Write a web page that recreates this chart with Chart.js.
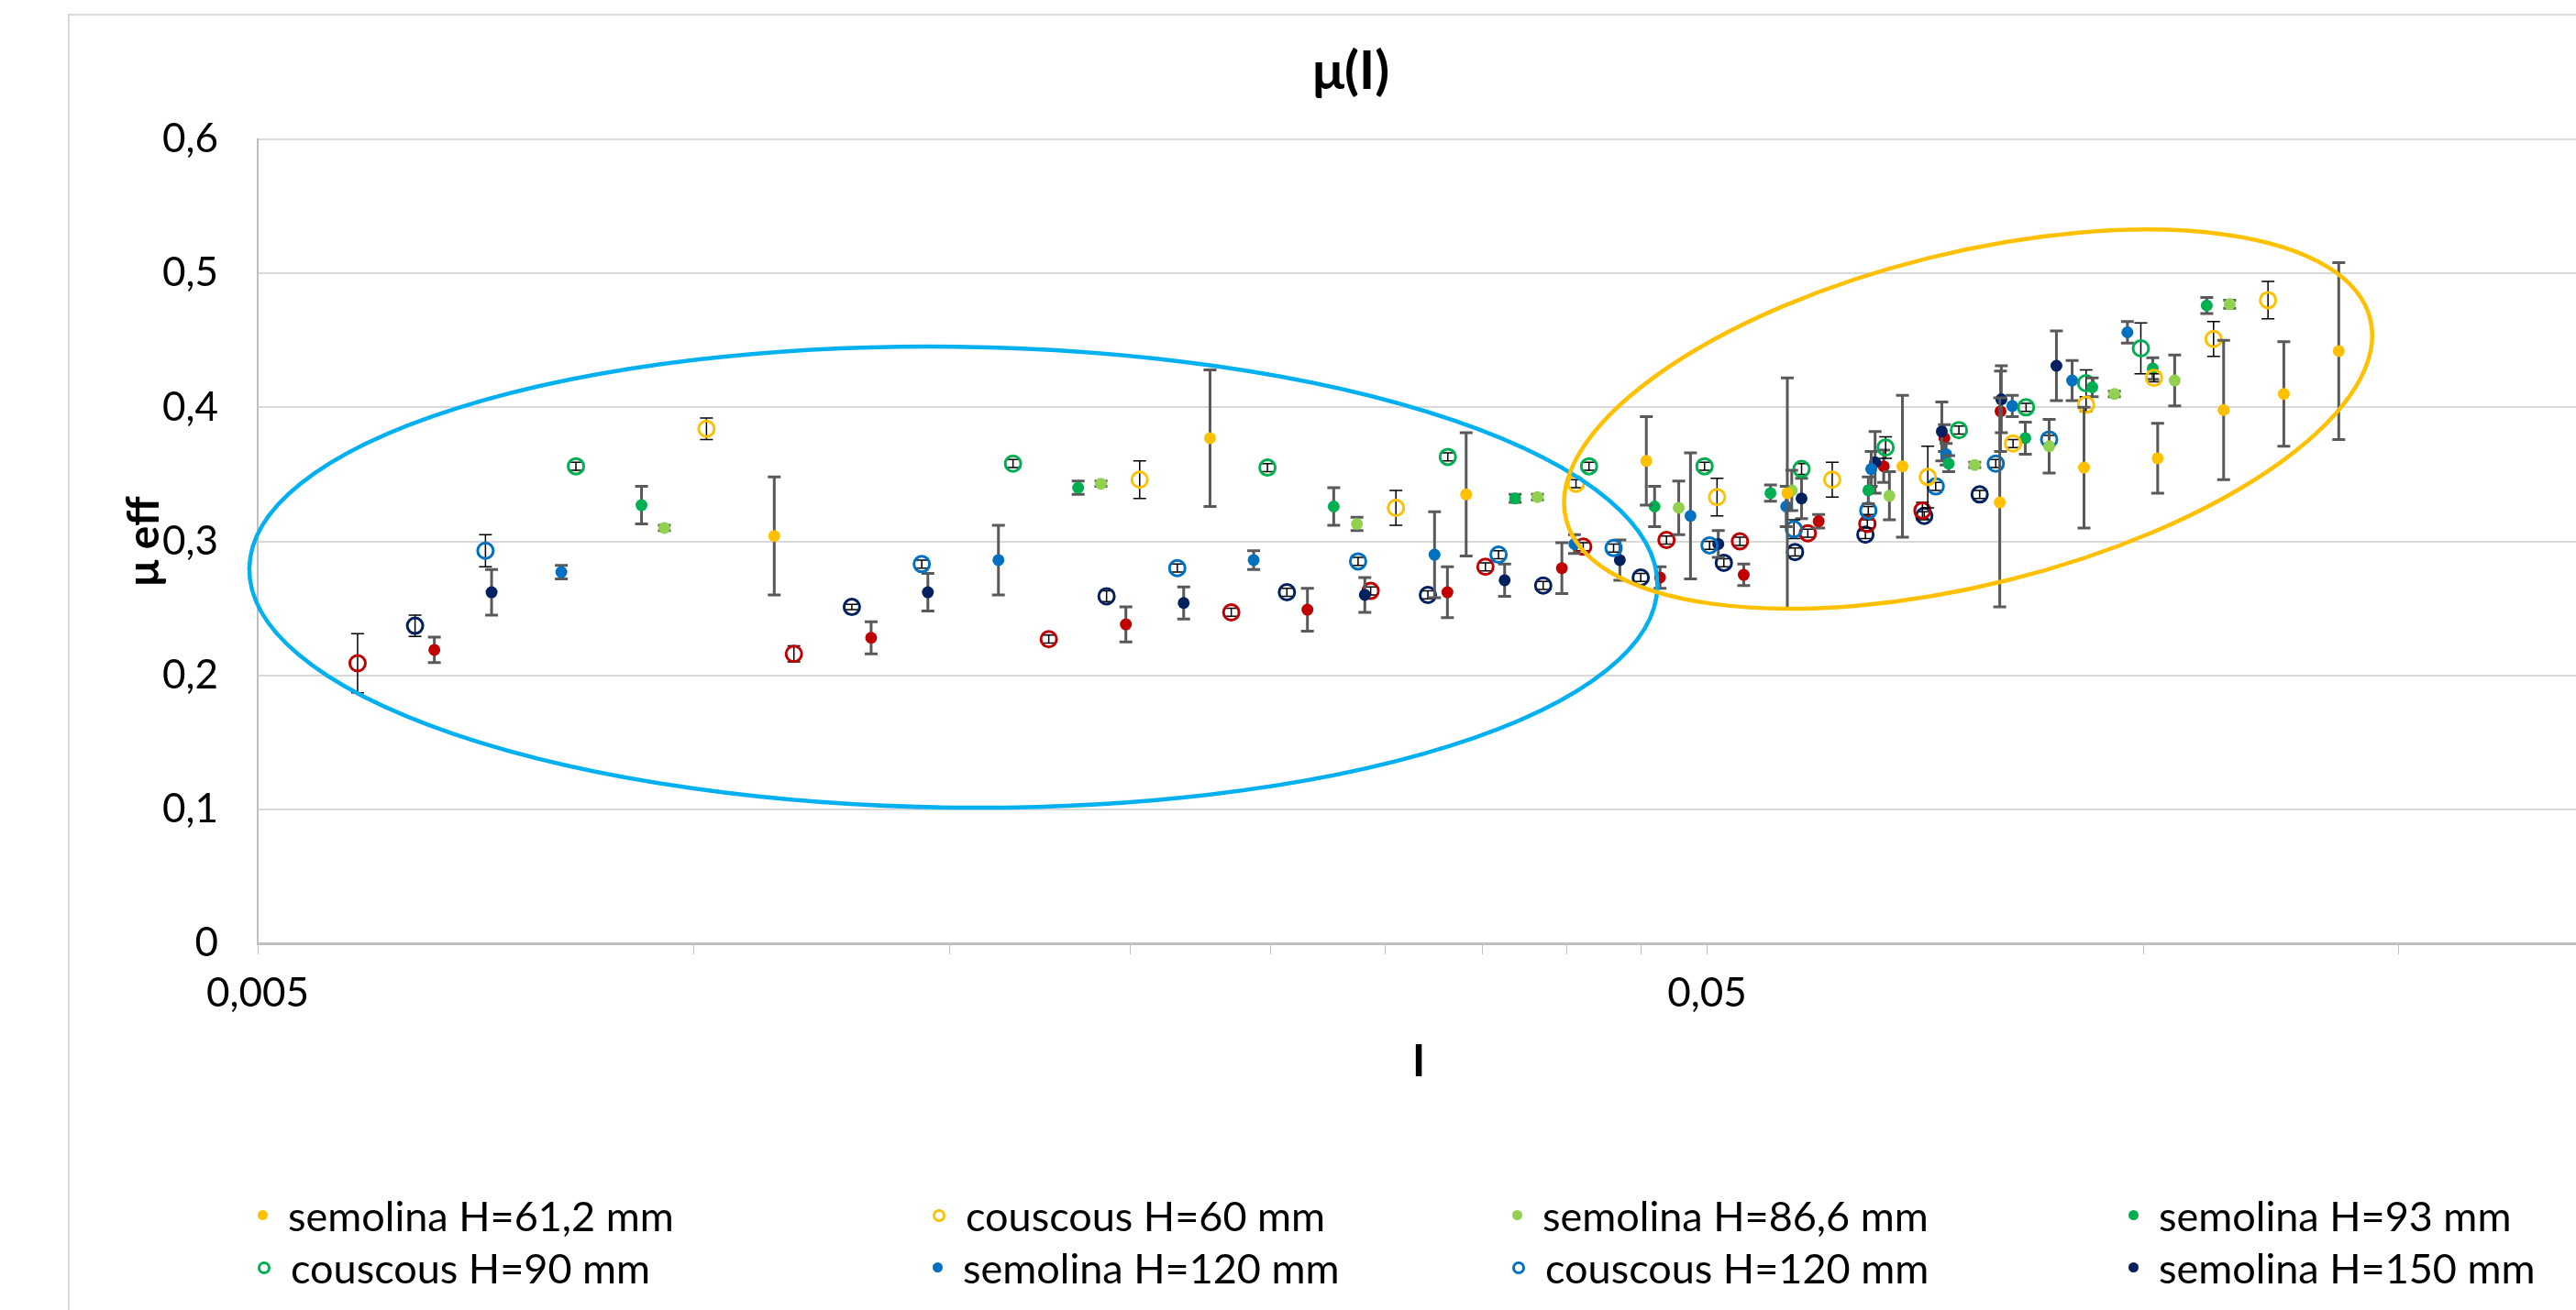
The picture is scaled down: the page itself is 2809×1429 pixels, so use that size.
<!DOCTYPE html>
<html>
<head>
<meta charset="utf-8">
<script src="https://cdn.jsdelivr.net/npm/chart.js@4.4.1/dist/chart.umd.min.js"></script>
<style>
  body { margin: 0; width: 2809px; height: 1429px; overflow: hidden; background: #fff; }
  #frame { position: absolute; left: 74px; top: 15px; width: 2900px; height: 1500px; border: 2px solid #d9d9d9; }
  #wrap { position: absolute; left: 0; top: 0; width: 2872px; height: 1429px; }
  #legend { position: absolute; left: 281px; top: 1297px; display: grid;
            grid-template-columns: 736px 632px 672px 440px; grid-auto-rows: 57px;
            font-family: Lato, "Open Sans", sans-serif; color: #000; }
  #legend .item { display: flex; align-items: center; white-space: nowrap; }
  #legend .mk { flex: 0 0 auto; border-radius: 50%; box-sizing: border-box; margin-right: 22px; }
</style>
</head>
<body>
<div id="frame"></div>
<div id="wrap"><canvas id="chart" width="2872" height="1429"></canvas></div>
<div id="legend"></div>

<script>
// ---- data: I, mu eff, +/- error ----
var sem61_I   = [0.01136, 0.0227, 0.0341, 0.0454, 0.0568, 0.0682, 0.0796, 0.0910, 0.1023, 0.1136, 0.1250, 0.1364];
var sem61_mu  = [0.304, 0.377, 0.335, 0.360, 0.336, 0.356, 0.329, 0.355, 0.362, 0.398, 0.410, 0.442];
var sem61_err = [0.044, 0.051, 0.046, 0.033, 0.086, 0.053, 0.078, 0.045, 0.026, 0.052, 0.039, 0.066];

var cous60_I   = [0.0102, 0.0203, 0.0305, 0.0406, 0.0508, 0.0610, 0.0710, 0.0813, 0.0913, 0.1017, 0.1118, 0.1219];
var cous60_mu  = [0.384, 0.346, 0.325, 0.343, 0.333, 0.346, 0.348, 0.373, 0.402, 0.422, 0.451, 0.480];
var cous60_err = [0.008, 0.014, 0.013, 0.003, 0.014, 0.013, 0.023, 0.003, 0.005, 0.003, 0.013, 0.014];

var sem86_I   = [0.00954, 0.01909, 0.02867, 0.03819, 0.0478, 0.0572, 0.0668, 0.0765, 0.0861, 0.0955, 0.1051, 0.1147];
var sem86_mu  = [0.310, 0.343, 0.313, 0.333, 0.325, 0.338, 0.334, 0.357, 0.371, 0.410, 0.420, 0.477];
var sem86_err = [0.002, 0.002, 0.005, 0.002, 0.020, 0.015, 0.018, 0.002, 0.020, 0.002, 0.019, 0.003];

var sem93_I   = [0.0092, 0.01841, 0.02763, 0.03686, 0.0460, 0.0553, 0.0646, 0.0734, 0.0829, 0.0922, 0.1015, 0.1106];
var sem93_mu  = [0.327, 0.340, 0.326, 0.332, 0.326, 0.336, 0.338, 0.358, 0.377, 0.415, 0.429, 0.476];
var sem93_err = [0.014, 0.005, 0.014, 0.003, 0.015, 0.006, 0.010, 0.006, 0.012, 0.007, 0.008, 0.006];

var cous90_I   = [0.00829, 0.0166, 0.02487, 0.03312, 0.04145, 0.0498, 0.0581, 0.0664, 0.0746, 0.0830, 0.0913, 0.0996];
var cous90_mu  = [0.356, 0.358, 0.355, 0.363, 0.356, 0.356, 0.354, 0.370, 0.383, 0.400, 0.418, 0.444];
var cous90_err = [0.003, 0.003, 0.003, 0.003, 0.003, 0.003, 0.004, 0.008, 0.003, 0.003, 0.010, 0.019];

var sem120_I   = [0.0081, 0.01622, 0.02433, 0.03243, 0.0405, 0.0487, 0.0567, 0.0649, 0.0731, 0.0812, 0.0893, 0.0975];
var sem120_mu  = [0.277, 0.286, 0.286, 0.290, 0.298, 0.319, 0.326, 0.354, 0.365, 0.401, 0.420, 0.456];
var sem120_err = [0.005, 0.026, 0.007, 0.032, 0.007, 0.047, 0.015, 0.013, 0.008, 0.008, 0.015, 0.008];

var cous120_I   = [0.00718, 0.01436, 0.02155, 0.02872, 0.0359, 0.0431, 0.0502, 0.0574, 0.0646, 0.0719, 0.0791, 0.0861];
var cous120_mu  = [0.293, 0.283, 0.280, 0.285, 0.290, 0.295, 0.297, 0.309, 0.323, 0.341, 0.358, 0.376];
var cous120_err = [0.012, 0.003, 0.003, 0.003, 0.003, 0.003, 0.003, 0.007, 0.003, 0.003, 0.003, 0.003];

var sem150_I   = [0.00725, 0.0145, 0.02177, 0.02903, 0.03625, 0.04353, 0.0509, 0.0581, 0.0653, 0.0726, 0.0798, 0.0871];
var sem150_mu  = [0.262, 0.262, 0.254, 0.260, 0.271, 0.286, 0.298, 0.332, 0.359, 0.382, 0.406, 0.431];
var sem150_err = [0.017, 0.014, 0.012, 0.013, 0.012, 0.015, 0.010, 0.015, 0.023, 0.022, 0.025, 0.026];

// these three have no visible legend entry (legend is cut off)
var sem180_I   = [0.00662, 0.01325, 0.01986, 0.0265, 0.0331, 0.0397, 0.0464, 0.0530, 0.0597, 0.0662, 0.0729, 0.0797];
var sem180_mu  = [0.219, 0.228, 0.238, 0.249, 0.262, 0.280, 0.273, 0.275, 0.315, 0.356, 0.377, 0.397];
var sem180_err = [0.0095, 0.012, 0.013, 0.016, 0.019, 0.019, 0.008, 0.008, 0.005, 0.012, 0.010, 0.030];

var cous180_I   = [0.00586, 0.01172, 0.01757, 0.02348, 0.0293, 0.03516, 0.04107, 0.04688, 0.05268, 0.05868, 0.0645, 0.0704];
var cous180_mu  = [0.209, 0.216, 0.227, 0.247, 0.263, 0.281, 0.296, 0.301, 0.300, 0.306, 0.313, 0.323];
var cous180_err = [0.022, 0.006, 0.003, 0.003, 0.003, 0.003, 0.003, 0.003, 0.003, 0.003, 0.003, 0.006];

var cous150_I   = [0.00642, 0.01285, 0.01926, 0.02565, 0.03209, 0.03854, 0.0450, 0.05135, 0.0575, 0.0643, 0.0706, 0.0771];
var cous150_mu  = [0.237, 0.251, 0.259, 0.262, 0.260, 0.267, 0.273, 0.284, 0.292, 0.305, 0.319, 0.335];
var cous150_err = [0.008, 0.002, 0.004, 0.003, 0.003, 0.003, 0.003, 0.003, 0.003, 0.003, 0.003, 0.003];

var seriesLabels = ['semolina H=61,2 mm', 'couscous H=60 mm', 'semolina H=86,6 mm', 'semolina H=93 mm',
                    'couscous H=90 mm', 'semolina H=120 mm', 'couscous H=120 mm', 'semolina H=150 mm',
                    'semolina H=180 mm', 'couscous H=180 mm', 'couscous H=150 mm'];
var seriesColors = ['#FFC000', '#FFC000', '#92D050', '#00B050', '#00B050', '#0070C0', '#0070C0', '#002060',
                    '#C00000', '#C00000', '#002060'];
var seriesFilled = [true, false, true, true, false, true, false, true, true, false, false];
var seriesI   = [sem61_I, cous60_I, sem86_I, sem93_I, cous90_I, sem120_I, cous120_I, sem150_I, sem180_I, cous180_I, cous150_I];
var seriesMu  = [sem61_mu, cous60_mu, sem86_mu, sem93_mu, cous90_mu, sem120_mu, cous120_mu, sem150_mu, sem180_mu, cous180_mu, cous150_mu];
var seriesErr = [sem61_err, cous60_err, sem86_err, sem93_err, cous90_err, sem120_err, cous120_err, sem150_err, sem180_err, cous180_err, cous150_err];
var legendCount = 8;

var xTickValues = [0.005, 0.01, 0.015, 0.02, 0.025, 0.03, 0.035, 0.04, 0.045, 0.05, 0.1, 0.15, 0.2];
var xTickLabels = ['0,005', '0,05'];

// hand drawn ellipses: centre (I, mu), half axes (decades of I, mu units), tilt in degrees
var ellipses = [
  {I: 0.0151, mu: 0.2733, rDec: 0.4858, rMu: 0.172, rot: 0.7, color: '#00B0F0'},
  {I: 0.0757, mu: 0.3912, rDec: 0.2859, rMu: 0.1238, rot: -14, color: '#FFC000'}
];

var FONT = 'Lato, "Open Sans", sans-serif';

function fmt(v) { return String(v).replace('.', ','); }

// pick a font size so a sample text gets the width it has in the picture
function fitSize(text, width, weight) {
  var c = document.createElement('canvas').getContext('2d');
  c.font = (weight || 'normal') + ' 100px ' + FONT;
  return Math.round(100 * width / c.measureText(text).width);
}
var tickSize = fitSize('0,005', 112);
var legendSize = fitSize('semolina H=61,2 mm', 420);
var titleSize = fitSize('μ(I)', 84, 'bold');
var axisTitleSize = Math.round(fitSize('μ eff', 82, 'bold') * 1.2);

var datasets = [];
for (var i = 0; i < seriesLabels.length; i++) {
  var pts = [];
  for (var j = 0; j < seriesI[i].length; j++) pts.push({x: seriesI[i][j], y: seriesMu[i][j]});
  datasets.push({
    label: seriesLabels[i],
    data: pts,
    err: seriesErr[i],
    filled: seriesFilled[i],
    pointStyle: 'circle',
    pointRadius: seriesFilled[i] ? 6.5 : 8.5,
    pointBorderWidth: seriesFilled[i] ? 0 : 3,
    borderColor: seriesColors[i],
    backgroundColor: seriesFilled[i] ? seriesColors[i] : 'rgba(0,0,0,0)'
  });
}

// error bars drawn just before each series' markers
var errorBars = {
  id: 'errorBars',
  beforeDatasetDraw: function(chart, args) {
    var ds = chart.data.datasets[args.index];
    var meta = args.meta, y = chart.scales.y, ctx = chart.ctx;
    ctx.save();
    ctx.strokeStyle = ds.filled ? '#595959' : '#000000';
    ctx.lineWidth = ds.filled ? 3 : 1.5;
    meta.data.forEach(function(pt, j) {
      var v = ds.data[j].y, e = ds.err[j];
      var t = y.getPixelForValue(v + e), b = y.getPixelForValue(v - e);
      ctx.beginPath();
      ctx.moveTo(pt.x, t); ctx.lineTo(pt.x, b);
      ctx.moveTo(pt.x - 7, t); ctx.lineTo(pt.x + 7, t);
      ctx.moveTo(pt.x - 7, b); ctx.lineTo(pt.x + 7, b);
      ctx.stroke();
    });
    ctx.restore();
  }
};

var ellipsePlugin = {
  id: 'ellipses',
  afterDatasetsDraw: function(chart) {
    var x = chart.scales.x, y = chart.scales.y, ctx = chart.ctx;
    ctx.save();
    ctx.lineWidth = 4.5;
    ellipses.forEach(function(e) {
      var cx = x.getPixelForValue(e.I), cy = y.getPixelForValue(e.mu);
      var rx = e.rDec * (x.getPixelForValue(e.I * 10) - cx);
      var ry = y.getPixelForValue(0) - y.getPixelForValue(e.rMu);
      ctx.strokeStyle = e.color;
      ctx.beginPath();
      ctx.ellipse(cx, cy, rx, ry, e.rot * Math.PI / 180, 0, 2 * Math.PI);
      ctx.stroke();
    });
    ctx.restore();
  }
};

var chart = new Chart(document.getElementById('chart'), {
  type: 'scatter',
  data: {datasets: datasets},
  plugins: [errorBars, ellipsePlugin],
  options: {
    responsive: false,
    animation: false,
    devicePixelRatio: 1,
    layout: {padding: {left: 133, right: 59, top: 0, bottom: 0}},
    plugins: {
      legend: {display: false},
      tooltip: {enabled: false},
      title: {
        display: true, text: 'μ(I)', color: '#000',
        font: {family: FONT, size: titleSize, weight: 'bold', lineHeight: 1},
        padding: {top: 78 - titleSize / 2, bottom: 152 - 78 - titleSize / 2}
      }
    },
    scales: {
      x: {
        type: 'logarithmic', min: 0.005, max: 0.2,
        afterFit: function(s) { s.height = 400; },
        afterBuildTicks: function(s) { s.ticks = xTickValues.map(function(v) { return {value: v}; }); },
        ticks: {
          autoSkip: false, maxRotation: 0, color: '#000', padding: 16,
          font: {family: FONT, size: tickSize, lineHeight: 1.2},
          callback: function(v) { var l = fmt(v); return xTickLabels.indexOf(l) >= 0 ? l : ''; }
        },
        grid: {drawOnChartArea: false, drawTicks: true, tickLength: 12, color: '#bfbfbf', lineWidth: 1},
        border: {display: true, color: '#bfbfbf', width: 3},
        title: {display: true, text: 'I', color: '#000', font: {family: FONT, size: axisTitleSize, weight: 'bold', lineHeight: 1}, padding: {top: 0, bottom: 1429 - 1159 - axisTitleSize / 2}}
      },
      y: {
        min: 0, max: 0.6,
        afterFit: function(s) { s.width = 148; },
        ticks: {
          stepSize: 0.1, color: '#000', padding: 43,
          font: {family: FONT, size: tickSize},
          callback: function(v) { return fmt(Math.round(v * 10) / 10); }
        },
        grid: {color: '#d9d9d9', lineWidth: 2, drawTicks: false},
        border: {display: true, color: '#bfbfbf', width: 2},
        title: {display: true, text: 'μ eff', color: '#000', font: {family: FONT, size: axisTitleSize, weight: 'bold', lineHeight: 1}, padding: {top: 25 - axisTitleSize / 2, bottom: 0}}
      }
    }
  }
});

// legend as a grid like the spreadsheet one
var legend = document.getElementById('legend');
legend.style.fontSize = legendSize + 'px';
for (var k = 0; k < legendCount; k++) {
  var item = document.createElement('div');
  item.className = 'item';
  var mk = document.createElement('span');
  mk.className = 'mk';
  if (seriesFilled[k]) { mk.style.background = seriesColors[k]; mk.style.width = '11px'; mk.style.height = '11px'; }
  else { mk.style.border = '3px solid ' + seriesColors[k]; mk.style.width = '14px'; mk.style.height = '14px'; }
  var tx = document.createElement('span');
  tx.textContent = seriesLabels[k];
  item.appendChild(mk);
  item.appendChild(tx);
  legend.appendChild(item);
}
</script>
</body>
</html>
